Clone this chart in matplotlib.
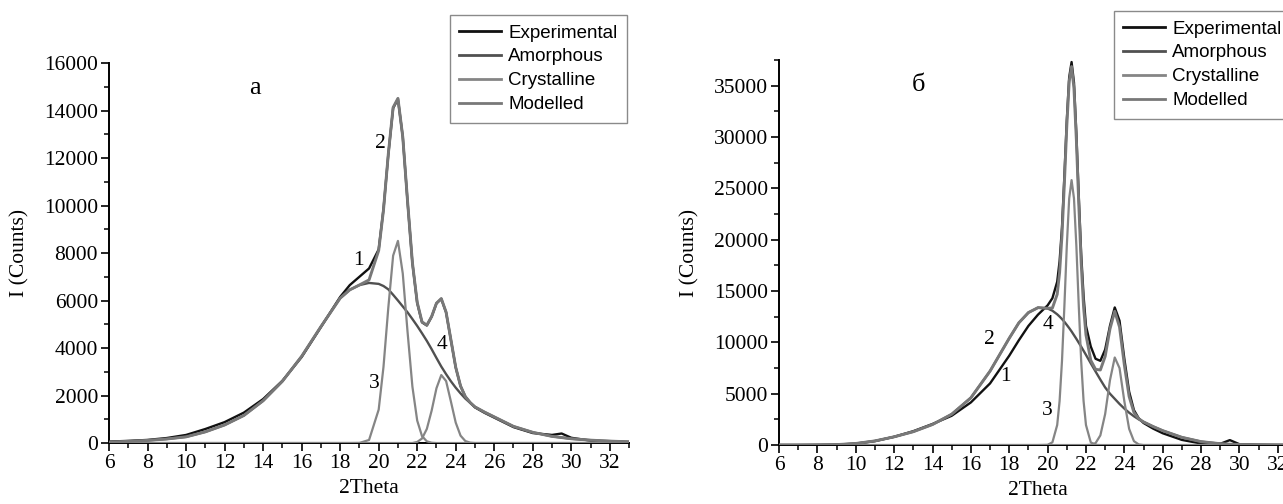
#!/usr/bin/env python3
"""
XRD-разложение: экспериментальный профиль, аморфная часть, кристаллические пики, модель
две панели (а) и (б)
"""
import matplotlib
matplotlib.use('Agg')
import matplotlib.pyplot as plt
from matplotlib.ticker import MultipleLocator
from matplotlib.lines import Line2D

SERIF = 'Liberation Serif'
SANS = 'Liberation Sans'

# ---------------- панель а ----------------
x_a = [6, 7, 8, 9, 10, 11, 12, 13, 14, 15, 16, 17, 18, 18.5, 19, 19.5, 20,
       20.25, 20.5, 20.75, 21, 21.25, 21.5, 21.75, 22, 22.25, 22.5, 22.75,
       23, 23.25, 23.5, 23.75, 24, 24.25, 24.5, 24.75, 25, 25.5, 26, 27, 28,
       29, 29.5, 30, 31, 32, 33]
exp_a = [60, 90, 130, 210, 340, 590, 880, 1280, 1850, 2620, 3620, 4880, 6150,
         6650, 7000, 7350, 8150, 9850, 12150, 14100, 14480, 12900, 10150, 7580,
         5900, 5080, 4950, 5320, 5880, 6070, 5500, 4340, 3180, 2400, 1950, 1700,
         1500, 1270, 1070, 670, 420, 340, 400, 220, 100, 60, 40]
amorph_a = [40, 70, 110, 170, 260, 470, 760, 1160, 1780, 2600, 3650, 4900,
            6100, 6450, 6650, 6740, 6700, 6610, 6470, 6240, 6000, 5750, 5500,
            5220, 4930, 4620, 4300, 3950, 3580, 3220, 2900, 2600, 2330, 2090,
            1870, 1690, 1520, 1300, 1100, 700, 450, 280, 230, 180, 120, 80, 50]
cryst1_a = [0, 0, 0, 0, 0, 0, 0, 0, 0, 0, 0, 0, 0, 0, 4, 128, 1406, 3210,
            5700, 7890, 8510, 7140, 4670, 2380, 945, 290, 70, 13, 0, 0, 0, 0,
            0, 0, 0, 0, 0, 0, 0, 0, 0, 0, 0, 0, 0, 0, 0]
cryst2_a = [0, 0, 0, 0, 0, 0, 0, 0, 0, 0, 0, 0, 0, 0, 0, 0, 0, 0, 0, 0, 0,
            0, 0, 0, 44, 190, 593, 1365, 2306, 2862, 2609, 1747, 859, 311, 82,
            16, 0, 0, 0, 0, 0, 0, 0, 0, 0, 0, 0]
model_a = [40, 70, 110, 170, 260, 470, 760, 1160, 1780, 2600, 3650, 4900,
           6100, 6450, 6654, 6868, 8106, 9820, 12170, 14130, 14510, 12890,
           10170, 7600, 5919, 5100, 4963, 5328, 5886, 6082, 5509, 4347, 3189,
           2401, 1952, 1706, 1520, 1300, 1100, 700, 450, 280, 230, 180, 120,
           80, 50]

# ---------------- панель б ----------------
x_b = [6, 7, 8, 9, 10, 11, 12, 13, 14, 15, 16, 17, 18, 18.5, 19, 19.5, 20,
       20.25, 20.5, 20.625, 20.75, 20.875, 21, 21.125, 21.25, 21.375, 21.5,
       21.625, 21.75, 21.875, 22, 22.25, 22.5, 22.75, 23, 23.25, 23.5, 23.75,
       24, 24.25, 24.5, 24.75, 25, 25.5, 26, 27, 28, 29, 29.5, 30, 31, 32, 33]
exp_b = [0, 0, 10, 30, 130, 380, 800, 1350, 2050, 2850, 4150, 6000, 8700,
         10200, 11600, 12700, 13600, 14300, 15900, 17900, 21200, 26200, 31600,
         35800, 37300, 35300, 30300, 24200, 18600, 14500, 11600, 9600, 8400,
         8200, 9300, 11600, 13400, 12100, 8400, 5200, 3400, 2600, 2150, 1600,
         1150, 500, 150, 120, 480, 80, 20, 0, 0]
amorph_b = [0, 0, 10, 40, 150, 400, 800, 1300, 2000, 3000, 4600, 7200, 10400,
            11900, 12900, 13380, 13300, 13080, 12730, 12510, 12270, 12000,
            11700, 11390, 11060, 10700, 10340, 9960, 9580, 9180, 8780, 7960,
            7160, 6370, 5610, 5000, 4500, 4000, 3550, 3150, 2800, 2500, 2250,
            1800, 1400, 750, 330, 130, 80, 50, 20, 10, 0]
cryst1_b = [0, 0, 0, 0, 0, 0, 0, 0, 0, 0, 0, 0, 0, 0, 0, 0, 20, 262, 1950,
            4290, 8190, 13540, 19360, 24020, 25800, 24020, 19360, 13540, 8190,
            4290, 1950, 262, 20, 0, 0, 0, 0, 0, 0, 0, 0, 0, 0, 0, 0, 0, 0, 0,
            0, 0, 0, 0, 0]
cryst2_b = [0, 0, 0, 0, 0, 0, 0, 0, 0, 0, 0, 0, 0, 0, 0, 0, 0, 0, 0, 0, 0, 0,
            0, 0, 0, 0, 0, 0, 0, 0, 0, 25, 189, 939, 3020, 6300, 8525, 7490,
            4266, 1576, 378, 58, 0, 0, 0, 0, 0, 0, 0, 0, 0, 0, 0]
model_b = [0, 0, 10, 40, 150, 400, 800, 1300, 2000, 3000, 4600, 7200, 10400,
           11900, 12900, 13380, 13320, 13340, 14680, 16800, 20460, 25540,
           31060, 35410, 36860, 34720, 29700, 23500, 17770, 13470, 10730, 8250,
           7370, 7310, 8630, 11300, 13025, 11490, 7816, 4726, 3178, 2558, 2250,
           1800, 1400, 750, 330, 130, 80, 50, 20, 10, 0]

legend_labels = ['Experimental', 'Amorphous', 'Crystalline', 'Modelled']

# цвета
C_EXP = '#111111'
C_AM = '#505050'
C_CR = '#858585'
C_MOD = '#787878'


def draw_panel(ax, x, e, am, c1, c2, mod, ymax, ymaj, ymin):
    ax.plot(x, e, color=C_EXP, lw=1.7, zorder=2)
    ax.plot(x, am, color=C_AM, lw=1.7, zorder=3)
    ax.plot(x, c1, color=C_CR, lw=1.6, zorder=3)
    ax.plot(x, c2, color=C_CR, lw=1.6, zorder=3)
    ax.plot(x, mod, color=C_MOD, lw=2.1, zorder=4)

    ax.set_xlim(6, 33)
    ax.set_ylim(0, ymax)
    ax.spines['top'].set_visible(False)
    ax.spines['right'].set_visible(False)
    for s in ('left', 'bottom'):
        ax.spines[s].set_linewidth(1.4)
    ax.xaxis.set_major_locator(MultipleLocator(2))
    ax.xaxis.set_minor_locator(MultipleLocator(1))
    ax.yaxis.set_major_locator(MultipleLocator(ymaj))
    ax.yaxis.set_minor_locator(MultipleLocator(ymin))
    ax.tick_params(axis='both', which='major', direction='out', length=6,
                   width=1.2, labelsize=15.5, pad=2)
    ax.tick_params(axis='both', which='minor', direction='out', length=3.5,
                   width=1.1)
    for lab in ax.get_xticklabels() + ax.get_yticklabels():
        lab.set_family(SERIF)
    ax.set_xlabel('2Theta', family=SERIF, fontsize=15.5, labelpad=4)
    ax.set_ylabel('I (Counts)', family=SERIF, fontsize=15.5, labelpad=10)

    handles = [Line2D([], [], color=c, lw=2) for c in (C_EXP, C_AM, C_CR, C_MOD)]
    return handles


fig = plt.figure(figsize=(12.83, 5.04), dpi=100)
ax1 = fig.add_axes([0.085, 0.121, 0.4053, 0.754])
ax2 = fig.add_axes([0.6072, 0.117, 0.4037, 0.764])

h = draw_panel(ax1, x_a, exp_a, amorph_a, cryst1_a, cryst2_a, model_a,
               16000, 2000, 1000)
draw_panel(ax2, x_b, exp_b, amorph_b, cryst1_b, cryst2_b, model_b,
           37500, 5000, 2500)

# подписи панелей и кривых
ax1.text(13.6, 14950, 'a', family=SERIF, fontsize=19, ha='center', va='center')
ax2.text(13.25, 35100, 'б', family=SERIF, fontsize=19, ha='center', va='center')
for t, xx, yy in [('1', 18.95, 7670), ('2', 20.1, 12600),
                  ('3', 19.75, 2520), ('4', 23.3, 4130)]:
    ax1.text(xx, yy, t, family=SERIF, fontsize=15.5, ha='center', va='center')
for t, xx, yy in [('2', 16.98, 10230), ('1', 17.82, 6660),
                  ('4', 20.0, 11700), ('3', 19.98, 3410)]:
    ax2.text(xx, yy, t, family=SERIF, fontsize=15.5, ha='center', va='center')

# легенды
for ax, pos in ((ax1, (0.3507, 0.970)), (ax2, (0.8683, 0.978))):
    leg = ax.legend(h, legend_labels, loc='upper left', bbox_to_anchor=pos,
                    bbox_transform=fig.transFigure, frameon=True,
                    fancybox=False, framealpha=1, edgecolor='#8a8a8a',
                    prop={'family': SANS, 'size': 13.5}, handlelength=2.2,
                    handletextpad=0.4, labelspacing=0.36, borderpad=0.5,
                    borderaxespad=0)
    leg.get_frame().set_linewidth(1.0)

fig.savefig('out.png', dpi=100)
